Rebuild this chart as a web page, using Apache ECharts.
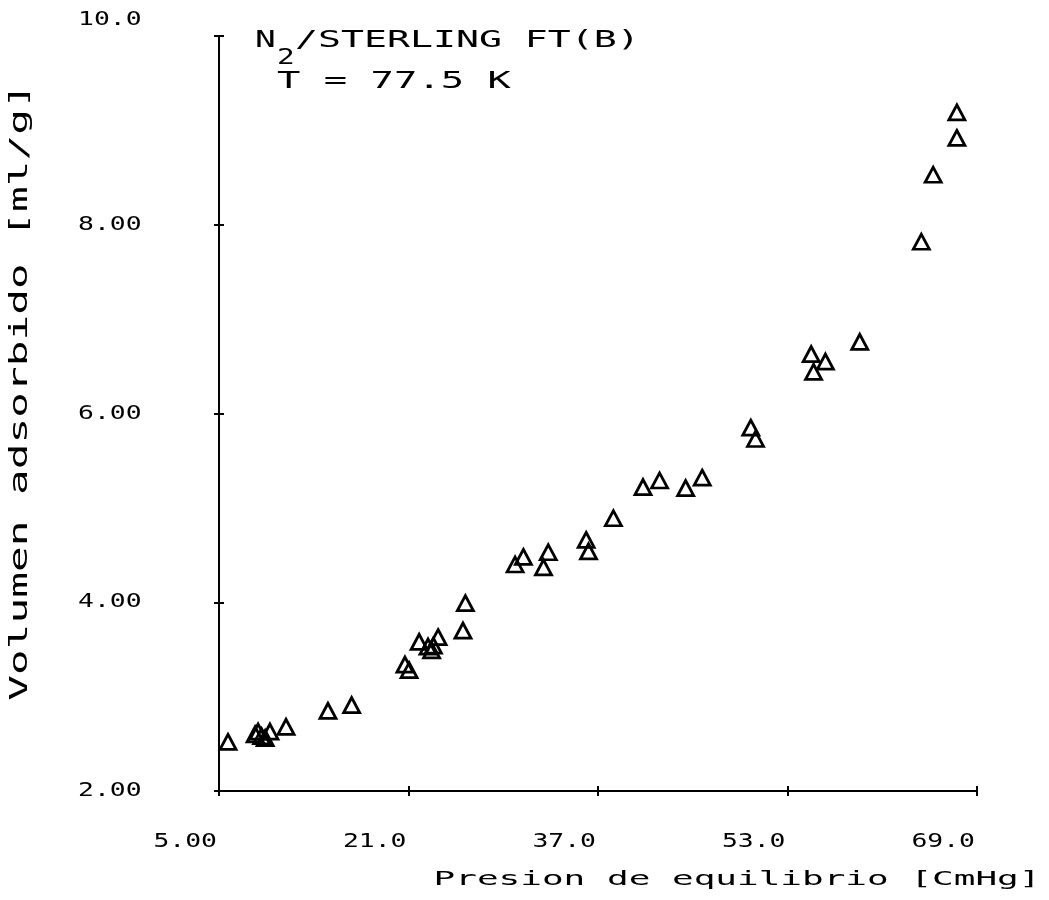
<!DOCTYPE html>
<html>
<head>
<meta charset="utf-8">
<script src="https://cdn.jsdelivr.net/npm/echarts@6/dist/echarts.min.js"></script>
<style>html,body{margin:0;padding:0;background:#fff}#c{width:1049px;height:900px}</style>
</head>
<body>
<div id="c"></div>
<script>
// Data
const pressure = [5.76, 8.05, 8.3, 8.6, 8.9, 9.3, 10.66, 14.2, 16.2,
  20.7, 21.05, 21.9, 22.65, 22.95, 23.1, 23.5, 25.6, 25.8,
  30.0, 30.7, 32.4, 32.8, 36.0, 36.2, 38.3, 40.8, 42.2, 44.4, 45.8,
  49.9, 50.3, 55.0, 55.2, 56.2, 59.1, 64.3, 65.3, 67.3, 67.3];
const volume = [2.52, 2.60, 2.63, 2.58, 2.56, 2.63, 2.68, 2.85, 2.91,
  3.34, 3.28, 3.58, 3.53, 3.49, 3.54, 3.63, 3.70, 3.99,
  4.40, 4.48, 4.37, 4.53, 4.66, 4.54, 4.89, 5.22, 5.29, 5.21, 5.32,
  5.85, 5.73, 6.63, 6.44, 6.55, 6.76, 7.82, 8.53, 8.92, 9.19];
const xTickValues = [5, 21, 37, 53, 69];
const xTickLabels = ['5.00', '21.0', '37.0', '53.0', '69.0'];
const yTickValues = [2, 4, 6, 8, 10];
const yTickLabels = ['2.00', '4.00', '6.00', '8.00', '10.0'];
const xTitle = 'Presion de equilibrio [CmHg]';
const yTitle = 'Volumen adsorbido [ml/g]';
const titleSpecies = 'N';
const titleSub = '2';
const titleRest = '/STERLING FT(B)';
const titleTemp = 'T = 77.5 K';

const X_MIN = 5, X_MAX = 69, X_INT = 16;
const Y_MIN = 2, Y_MAX = 10, Y_INT = 2;
const FONT = 'DejaVu Sans Mono';

const points = pressure.map((p, i) => [p, volume[i]]);

const chart = echarts.init(document.getElementById('c'), null, {renderer: 'canvas'});
const axisLine = {show: true, lineStyle: {color: '#000', width: 2}};
chart.setOption({
  animation: false,
  backgroundColor: '#fff',
  grid: {left: 219, right: 72, top: 36, bottom: 109, containLabel: false},
  xAxis: [{
    type: 'value', min: X_MIN, max: X_MAX, interval: X_INT,
    axisLine: axisLine,
    axisTick: {show: true, length: 5, lineStyle: {color: '#000', width: 2}},
    splitLine: {show: false}, axisLabel: {show: false}
  }, {
    type: 'value', min: X_MIN, max: X_MAX, interval: X_INT, position: 'bottom',
    axisLine: {show: false},
    axisTick: {show: true, inside: true, length: 5, lineStyle: {color: '#000', width: 2}},
    splitLine: {show: false}, axisLabel: {show: false}
  }],
  yAxis: [{
    type: 'value', min: Y_MIN, max: Y_MAX, interval: Y_INT,
    axisLine: axisLine,
    axisTick: {show: true, length: 5, lineStyle: {color: '#000', width: 2}},
    splitLine: {show: false}, axisLabel: {show: false}
  }, {
    type: 'value', min: Y_MIN, max: Y_MAX, interval: Y_INT, position: 'left',
    axisLine: {show: false},
    axisTick: {show: true, inside: true, length: 5, lineStyle: {color: '#000', width: 2}},
    splitLine: {show: false}, axisLabel: {show: false}
  }],
  series: [{
    type: 'scatter',
    xAxisIndex: 0, yAxisIndex: 0,
    data: points,
    symbol: 'triangle',
    symbolSize: [16, 15],
    itemStyle: {color: 'rgba(0,0,0,0)', borderColor: '#000', borderWidth: 2.8, opacity: 1},
    emphasis: {disabled: true}
  }]
});

// Tick labels placed through the axes' own scales (plotter-style wide lettering)
const labelGraphics = [];
const axisY0 = chart.convertToPixel({yAxisIndex: 0}, Y_MIN);
const axisX0 = chart.convertToPixel({xAxisIndex: 0}, X_MIN);
xTickValues.forEach((v, i) => {
  const px = chart.convertToPixel({xAxisIndex: 0}, v);
  labelGraphics.push({type: 'text', x: px - 2, y: axisY0 + 51, scaleX: 1.32, silent: true,
    style: {text: xTickLabels[i], fontFamily: FONT, fontSize: 20, fill: '#000', textAlign: 'right', textVerticalAlign: 'middle'}});
});
yTickValues.forEach((v, i) => {
  const py = chart.convertToPixel({yAxisIndex: 0}, v);
  const lift = (i === yTickValues.length - 1) ? 16 : 0;
  labelGraphics.push({type: 'text', x: axisX0 - 141, y: py - lift, scaleX: 1.32, silent: true,
    style: {text: yTickLabels[i], fontFamily: FONT, fontSize: 20, fill: '#000', textAlign: 'left', textVerticalAlign: 'middle'}});
});

chart.setOption({
  graphic: labelGraphics.concat([
    {type: 'text', x: 737, y: 880, scaleX: 1.8, silent: true,
     style: {text: xTitle, fontFamily: FONT, fontSize: 20, fill: '#000', textAlign: 'center', textVerticalAlign: 'middle'}},
    {type: 'text', x: 21, y: 392, rotation: Math.PI / 2, scaleX: 1.78, silent: true,
     style: {text: yTitle, fontFamily: FONT, fontSize: 24, fill: '#000', textAlign: 'center', textVerticalAlign: 'middle'}},
    {type: 'text', x: 255, y: 41, scaleX: 1.5, silent: true,
     style: {text: titleSpecies, fontFamily: FONT, fontSize: 23, fill: '#000', textAlign: 'left', textVerticalAlign: 'middle'}},
    {type: 'text', x: 277, y: 59, scaleX: 1.4, silent: true,
     style: {text: titleSub, fontFamily: FONT, fontSize: 21, fill: '#000', textAlign: 'left', textVerticalAlign: 'middle'}},
    {type: 'text', x: 295, y: 41, scaleX: 1.66, silent: true,
     style: {text: titleRest, fontFamily: FONT, fontSize: 23, fill: '#000', textAlign: 'left', textVerticalAlign: 'middle'}},
    {type: 'text', x: 277, y: 82, scaleX: 1.69, silent: true,
     style: {text: titleTemp, fontFamily: FONT, fontSize: 23, fill: '#000', textAlign: 'left', textVerticalAlign: 'middle'}}
  ])
});
</script>
</body>
</html>
